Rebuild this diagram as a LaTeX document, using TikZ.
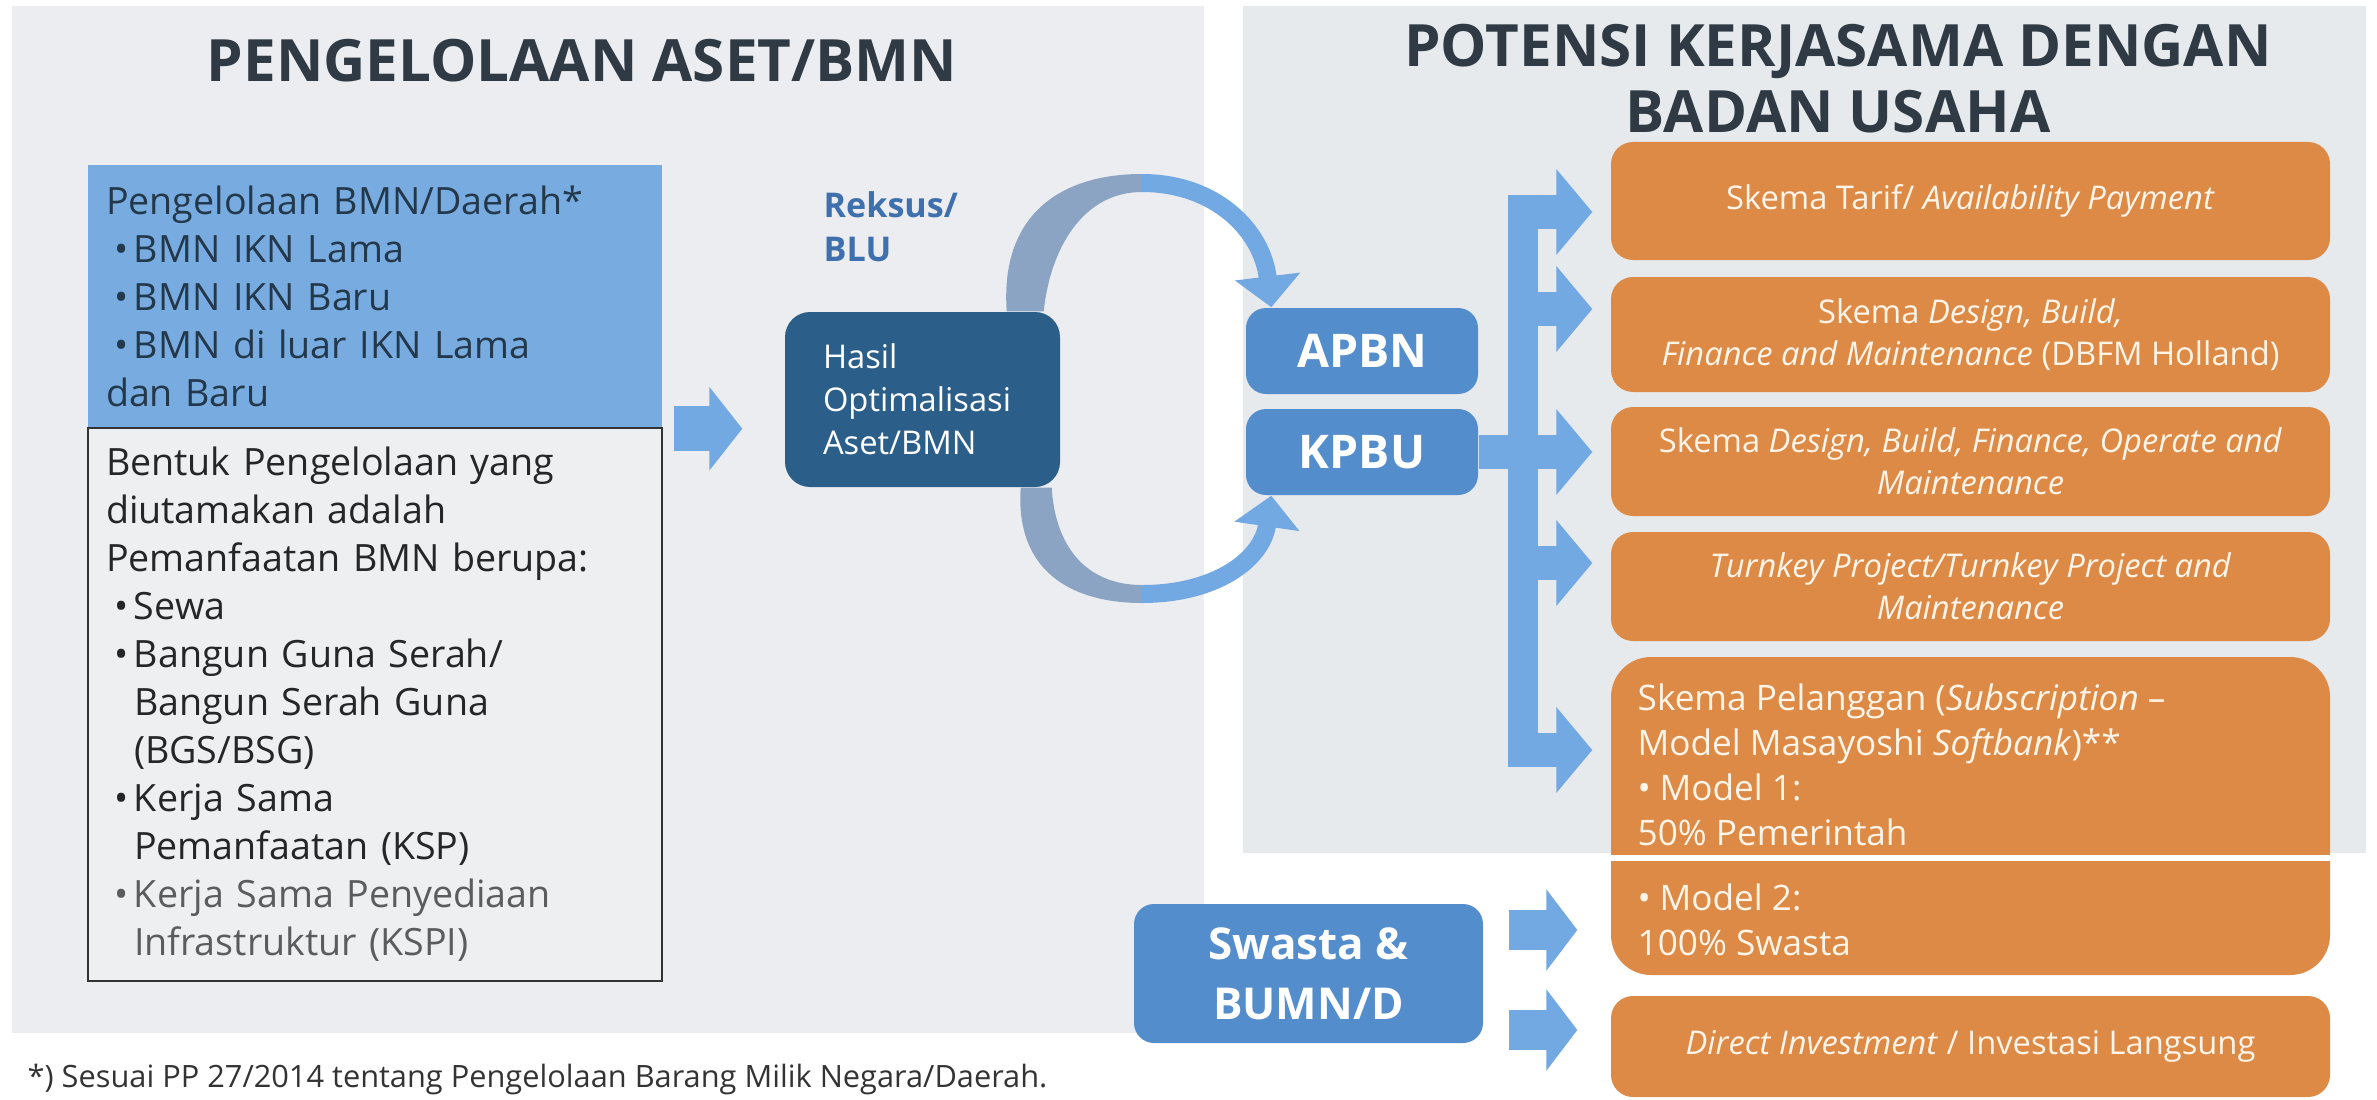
\documentclass[tikz,border=0pt]{standalone}
\usepackage{fontspec}
\setmainfont{Open Sans}
\usepackage{tikz}
\usetikzlibrary{arrows.meta}

\definecolor{panelkiri}{HTML}{EBEDF0}
\definecolor{panelkanan}{HTML}{E7EAED}
\definecolor{warnajudul}{HTML}{2F3A44}
\definecolor{birubox}{HTML}{78ACE0}
\definecolor{teksbiru}{HTML}{24384B}
\definecolor{kertas}{HTML}{EDEFF1}
\definecolor{birugelap}{HTML}{2C5E8A}
\definecolor{birusedang}{HTML}{548DCC}
\definecolor{birumuda}{HTML}{72A9E3}
\definecolor{biruabu}{HTML}{8CA4C3}
\definecolor{warnareksus}{HTML}{3E70AE}
\definecolor{oranye}{HTML}{DC8A46}
\definecolor{krem}{HTML}{FFF4E8}
\definecolor{abutua}{HTML}{5C5C5C}

\newcommand{\titik}{\makebox[2.8mm][l]{\hspace{0.8mm}\textbullet}}
\newcommand{\lanjut}{\hspace*{2.8mm}}
\newcommand{\titikkecil}{\makebox[2.2mm][l]{\textbullet}}

\begin{document}
\begin{tikzpicture}[x=0.1mm, y=-0.1mm, every node/.style={inner sep=0pt}]
        \useasboundingbox (0, 0) rectangle (2377, 1099);
        \tikzset{judulstyle/.style={font=\fontsize{16.6}{18.8}\selectfont\bfseries, text=warnajudul, align=center}}
        \tikzset{kotakkiri/.style={minimum width=57.4mm, text width=53.8mm, align=left, text=teksbiru, font=\fontsize{10.7}{13.65}\selectfont}}
        \tikzset{kotakbiru/.style={fill=birusedang, rounded corners=2mm, text=white, font=\fontsize{12.5}{17}\selectfont\bfseries, align=center}}
        \tikzset{kotakoranye/.style={fill=oranye, rounded corners=2.2mm, minimum width=71.9mm, text=krem, font=\fontsize{9.3}{12}\selectfont, align=center}}
        \tikzset{panahblok/.style={birumuda, line width=4.5mm, -{Triangle[length=3.3mm, width=8.2mm]}}}
        \tikzset{panahcabang/.style={birumuda, line width=3.4mm, -{Triangle[length=3.6mm, width=8.4mm]}}}
        \tikzset{cincinbiru/.style={birumuda, line width=1.8mm, -{Triangle[length=3.1mm, width=6.4mm]}}}
        % background panels
        \fill[panelkiri] (12, 6) rectangle (1204, 1033);
        \fill[panelkanan] (1243, 6) rectangle (2366, 853);
        % titles
        \node (judulkiri) [judulstyle] at (582, 61) {PENGELOLAAN ASET/BMN};
        \node (judulkanan) [judulstyle] at (1838, 79) {POTENSI KERJASAMA DENGAN\\BADAN USAHA};
        % left column
        \node (bmn) [kotakkiri, fill=birubox, minimum height=26.3mm] at (375, 296.5)
          {Pengelolaan BMN/Daerah*\\\titik BMN IKN Lama\\\titik BMN IKN Baru\\\titik BMN di luar IKN Lama\\dan Baru};
        \node (bentuk) [kotakkiri, fill=kertas, draw=black!80, line width=0.25mm, minimum height=55.3mm, text=black!85] at (375, 704.5)
          {Bentuk Pengelolaan yang\\diutamakan adalah\\Pemanfaatan BMN berupa:\\\titik Sewa\\\titik Bangun Guna Serah/\\\lanjut Bangun Serah Guna\\\lanjut (BGS/BSG)\\\titik Kerja Sama\\\lanjut Pemanfaatan (KSP)\\{\color{abutua}\titik Kerja Sama Penyediaan}\\{\color{abutua}\lanjut Infrastruktur (KSPI)}};
        \node (reksus) [anchor=west, align=left, text=warnareksus, font=\fontsize{9.7}{12.5}\selectfont\bfseries] at (823, 227) {Reksus/\\BLU};
        \node (hasil) [fill=birugelap, rounded corners=2.5mm, minimum width=27.5mm, minimum height=17.5mm, text width=19.9mm, align=left, text=white, font=\fontsize{9.3}{12.2}\selectfont] at (922.5, 399.5)
          {Hasil\\Optimalisasi\\Aset/BMN};
        \node (apbn) [kotakbiru, font=\fontsize{13.2}{17}\selectfont\bfseries, minimum width=23.2mm, minimum height=8.6mm] at (1362, 351) {APBN};
        \node (kpbu) [kotakbiru, font=\fontsize{13.2}{17}\selectfont\bfseries, minimum width=23.2mm, minimum height=8.6mm] at (1362, 452) {KPBU};
        \node (swasta) [kotakbiru, minimum width=34.9mm, minimum height=13.9mm] at (1308.5, 973.5) {Swasta \&\\BUMN/D};
        % schemes
        \node (o1) [kotakoranye, minimum height=11.8mm] at (1970.5, 201) {Skema Tarif/ \textit{Availability Payment}};
        \node (o2) [kotakoranye, minimum height=11.5mm] at (1970.5, 334.5) {Skema \textit{Design, Build,}\\\textit{Finance and Maintenance} (DBFM Holland)};
        \node (o3) [kotakoranye, minimum height=10.9mm] at (1970.5, 461.5) {Skema \textit{Design, Build, Finance, Operate and}\\\textit{Maintenance}};
        \node (o4) [kotakoranye, minimum height=10.9mm] at (1970.5, 586.5) {\textit{Turnkey Project/Turnkey Project and}\\\textit{Maintenance}};
        \node (pelanggan) [kotakoranye, rounded corners=4mm, minimum height=31.8mm] at (1970.5, 816) {};
        \node (langsung) [kotakoranye, minimum height=10.1mm] at (1970.5, 1046.5) {\textit{Direct Investment} / Investasi Langsung};
        \coordinate (garis) at (0, 858);
        \draw[white, line width=0.6mm] (pelanggan.west |- garis) -- (pelanggan.east |- garis);
        \node (model1) [anchor=west, align=left, text=krem, font=\fontsize{10}{12.8}\selectfont] at (1637, 765)
          {Skema Pelanggan (\textit{Subscription} –\\Model Masayoshi \textit{Softbank})**\\\titikkecil Model 1:\\50\% Pemerintah};
        \node (model2) [anchor=west, align=left, text=krem, font=\fontsize{10}{12.8}\selectfont] at (1637, 919.5)
          {\titikkecil Model 2:\\100\% Swasta};
        % arrows
        \path (bmn.south east) edge [panahblok, shorten <=1.1mm, shorten >=4.2mm] (bmn.south east -| hasil.west);
        \coordinate (atas) at (1523, 195);
        \coordinate (bawah) at (1523, 767);
        \coordinate (c1) at (1523, 212);
        \coordinate (c2) at (1523, 309);
        \coordinate (c4) at (1523, 563);
        \coordinate (c5) at (1523, 750);
        \draw[birumuda, line width=3mm] (atas) -- (bawah);
        \path (c1) edge [panahcabang, shorten >=1.8mm] (c1 -| o1.west);
        \path (c2) edge [panahcabang, shorten >=1.8mm] (c2 -| o2.west);
        \path (kpbu.east) edge [panahcabang, shorten >=1.8mm] (kpbu.east -| o3.west);
        \path (c4) edge [panahcabang, shorten >=1.8mm] (c4 -| o4.west);
        \path (c5) edge [panahcabang, shorten >=1.8mm] (c5 -| pelanggan.west);
        \coordinate (sw1) at (1508, 930);
        \coordinate (sw2) at (1508, 1030);
        \tikzset{panahswasta/.style={birumuda, line width=4mm, shorten <=2.5mm, shorten >=3.3mm, -{Triangle[length=3.1mm, width=8mm]}}}
        \path (swasta.east |- sw1) edge [panahswasta] (sw1 -| pelanggan.west);
        \path (swasta.east |- sw2) edge [panahswasta] (sw2 -| langsung.west);
        % ring
        \coordinate (puncak) at (1142, 183);
        \coordinate (dasar) at (1142, 594);
        \fill[biruabu] ([xshift=-5.4mm]hasil.north east) .. controls (1000, 215) and (1060, 174) .. (1142, 174)
          -- (1142, 192) .. controls (1082, 192) and (1050, 250) .. ([xshift=-1.7mm]hasil.north east) -- cycle;
        \draw[cincinbiru] (puncak) .. controls (1215, 183) and (1262, 230) .. ([xshift=2.6mm]apbn.north west);
        \fill[biruabu] ([xshift=-4mm]hasil.south east) .. controls (1015, 570) and (1070, 603) .. (1142, 603)
          -- (1142, 585) .. controls (1085, 585) and (1055, 545) .. ([xshift=-0.9mm]hasil.south east) -- cycle;
        \draw[cincinbiru] (dasar) .. controls (1215, 594) and (1262, 560) .. ([xshift=2.6mm]kpbu.south west);
        % footnote
        \node (catatan) [anchor=west, text=black!80, font=\fontsize{8.75}{10}\selectfont] at (27, 1079) {*) Sesuai PP 27/2014 tentang Pengelolaan Barang Milik Negara/Daerah.};
      \end{tikzpicture}
\end{document}
